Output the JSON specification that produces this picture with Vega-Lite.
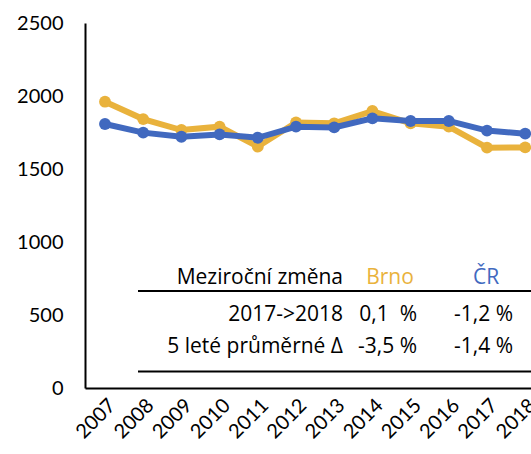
{
  "$schema": "https://vega.github.io/schema/vega-lite/v6.json",
  "width": 446,
  "height": 365,
  "autosize": {"type": "none"},
  "padding": {"left": 85, "top": 23, "right": 0, "bottom": 66},
  "background": "white",
  "config": {"view": {"stroke": null}, "font": "Lato"},
  "datasets": {
    "series": [
      {"year": "2007", "series": "Brno", "value": 1961},
      {"year": "2008", "series": "Brno", "value": 1842},
      {"year": "2009", "series": "Brno", "value": 1767},
      {"year": "2010", "series": "Brno", "value": 1790},
      {"year": "2011", "series": "Brno", "value": 1653},
      {"year": "2012", "series": "Brno", "value": 1819},
      {"year": "2013", "series": "Brno", "value": 1813},
      {"year": "2014", "series": "Brno", "value": 1897},
      {"year": "2015", "series": "Brno", "value": 1813},
      {"year": "2016", "series": "Brno", "value": 1790},
      {"year": "2017", "series": "Brno", "value": 1646},
      {"year": "2018", "series": "Brno", "value": 1648},
      {"year": "2007", "series": "ČR", "value": 1808},
      {"year": "2008", "series": "ČR", "value": 1749},
      {"year": "2009", "series": "ČR", "value": 1721},
      {"year": "2010", "series": "ČR", "value": 1737},
      {"year": "2011", "series": "ČR", "value": 1714},
      {"year": "2012", "series": "ČR", "value": 1790},
      {"year": "2013", "series": "ČR", "value": 1785},
      {"year": "2014", "series": "ČR", "value": 1847},
      {"year": "2015", "series": "ČR", "value": 1829},
      {"year": "2016", "series": "ČR", "value": 1829},
      {"year": "2017", "series": "ČR", "value": 1763},
      {"year": "2018", "series": "ČR", "value": 1742}
    ],
    "table": [
      {"row": "h", "col": "label", "kind": "hlabel", "text": "Meziroční změna"},
      {"row": "h", "col": "Brno", "kind": "hseries", "text": "Brno"},
      {"row": "h", "col": "ČR", "kind": "hseries", "text": "ČR"},
      {"row": "r1", "col": "label", "kind": "label", "text": "2017->2018"},
      {"row": "r1", "col": "Brno", "kind": "value", "text": "0,1\u00a0\u00a0%"},
      {"row": "r1", "col": "ČR", "kind": "value", "text": "-1,2\u00a0%"},
      {"row": "r2", "col": "label", "kind": "label", "text": "5 leté průměrné Δ"},
      {"row": "r2", "col": "Brno", "kind": "value", "text": "-3,5\u00a0%"},
      {"row": "r2", "col": "ČR", "kind": "value", "text": "-1,4\u00a0%"}
    ],
    "lines": [
      {"line": "line1", "from": "start", "to": "end"},
      {"line": "line2", "from": "start", "to": "end"}
    ]
  },
  "layer": [
    {
      "data": {"name": "series"},
      "encoding": {
        "x": {
          "field": "year", "type": "ordinal",
          "scale": {"type": "point", "padding": 0.3377, "align": 0.775},
          "axis": {
            "title": null, "labelAngle": -45, "labelFont": "Lato", "labelFontSize": 20,
            "labelColor": "#000", "ticks": false, "labelPadding": 7,
            "domainColor": "#000", "domainWidth": 2, "grid": false
          }
        },
        "y": {
          "field": "value", "type": "quantitative",
          "scale": {"domain": [0, 2500], "nice": false, "zero": true},
          "axis": {
            "title": null, "values": [0, 500, 1000, 1500, 2000, 2500], "format": "d",
            "labelFont": "Lato", "labelFontSize": 20, "labelColor": "#000",
            "ticks": false, "labelPadding": 22, "domainColor": "#000",
            "domainWidth": 2, "grid": false
          }
        },
        "color": {
          "field": "series", "type": "nominal",
          "scale": {"domain": ["Brno", "ČR"], "range": ["#E9B23C", "#4169BF"]},
          "legend": null
        }
      },
      "layer": [
        {"transform": [{"filter": "datum.series === 'Brno'"}], "mark": {"type": "line", "strokeWidth": 6}},
        {"transform": [{"filter": "datum.series === 'Brno'"}], "mark": {"type": "point", "filled": true, "opacity": 1, "size": 140}},
        {"transform": [{"filter": "datum.series === 'ČR'"}], "mark": {"type": "line", "strokeWidth": 6}},
        {"transform": [{"filter": "datum.series === 'ČR'"}], "mark": {"type": "point", "filled": true, "opacity": 1, "size": 140}}
      ]
    },
    {
      "data": {"name": "table"},
      "encoding": {
        "x": {"field": "col", "type": "nominal", "scale": {"type": "point", "padding": 0, "domain": ["label", "Brno", "ČR"], "range": [236, 428]}, "axis": null},
        "y": {"field": "row", "type": "nominal", "scale": {"type": "point", "padding": 0, "domain": ["h", "r1", "r2"], "range": [260.3, 323.7]}, "axis": null},
        "text": {"field": "text"}
      },
      "layer": [
        {"transform": [{"filter": "datum.kind === 'hlabel'"}], "mark": {"type": "text", "font": "Open Sans", "fontSize": 21, "align": "right", "baseline": "middle", "dx": 22, "dy": -5, "color": "#000"}},
        {"transform": [{"filter": "datum.kind === 'hseries'"}], "mark": {"type": "text", "font": "Open Sans", "fontSize": 21, "align": "center", "baseline": "middle", "dx": -27, "dy": -5},
         "encoding": {"color": {"field": "col", "type": "nominal", "scale": {"domain": ["Brno", "ČR"], "range": ["#E9B23C", "#4169BF"]}, "legend": null}}},
        {"transform": [{"filter": "datum.kind === 'label'"}], "mark": {"type": "text", "font": "Open Sans", "fontSize": 21, "align": "right", "baseline": "middle", "dx": 22, "color": "#000"}},
        {"transform": [{"filter": "datum.kind === 'value'"}], "mark": {"type": "text", "font": "Open Sans", "fontSize": 21, "align": "right", "baseline": "middle", "color": "#000"}}
      ]
    },
    {
      "data": {"name": "lines"},
      "mark": {"type": "rule", "color": "#000", "strokeWidth": 2},
      "encoding": {
        "x": {"field": "from", "type": "nominal", "scale": {"type": "point", "padding": 0, "domain": ["start", "end"], "range": [53, 446]}, "axis": null},
        "x2": {"field": "to"},
        "y": {"field": "line", "type": "nominal", "scale": {"type": "point", "padding": 0, "domain": ["line1", "line2"], "range": [268, 348.5]}, "axis": null}
      }
    }
  ],
  "resolve": {"scale": {"x": "independent", "y": "independent"}}
}
